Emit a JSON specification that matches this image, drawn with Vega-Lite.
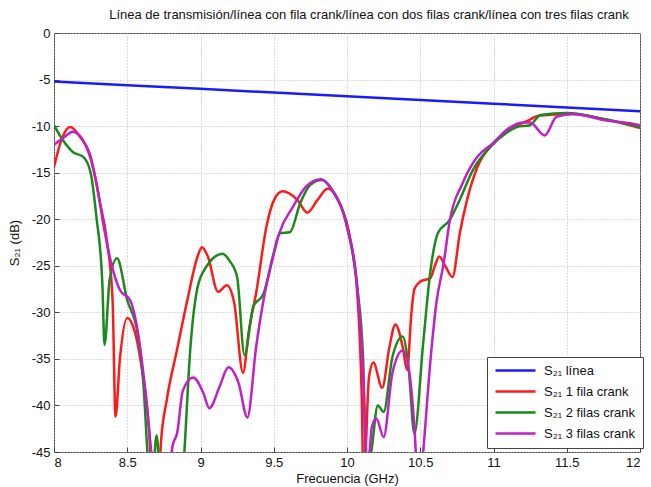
{
  "$schema": "https://vega.github.io/schema/vega-lite/v6.json",
  "width": 586,
  "height": 419,
  "autosize": {"type": "none"},
  "padding": {"left": 54, "top": 33, "right": 11, "bottom": 35},
  "background": "white",
  "title": {
    "text": "Línea de transmisión/línea con fila crank/línea con dos filas crank/línea con tres filas crank",
    "font": "Liberation Sans",
    "fontSize": 13,
    "fontWeight": "normal",
    "color": "#111",
    "offset": 5,
    "dx": 22
  },
  "config": {
    "view": {"stroke": "#444", "strokeWidth": 1},
    "axis": {
      "labelFont": "Liberation Sans",
      "labelFontSize": 13,
      "labelColor": "#111",
      "titleFont": "Liberation Sans",
      "titleFontSize": 13,
      "titleFontWeight": "normal",
      "titleColor": "#111",
      "grid": true,
      "gridColor": "#bbbbbb",
      "gridDash": [1, 2],
      "gridWidth": 1,
      "domain": false,
      "tickColor": "#444",
      "tickSize": -5
    }
  },
  "data": {
    "values": [
      {"f": 8.00, "s": -5.2, "serie": "S₂₁ línea"},
      {"f": 9.00, "s": -6.0, "serie": "S₂₁ línea"},
      {"f": 10.00, "s": -6.8, "serie": "S₂₁ línea"},
      {"f": 11.00, "s": -7.6, "serie": "S₂₁ línea"},
      {"f": 12.00, "s": -8.4, "serie": "S₂₁ línea"},

      {"f": 8.00, "s": -14.4, "serie": "S₂₁ 1 fila crank"},
      {"f": 8.05, "s": -11.5, "serie": "S₂₁ 1 fila crank"},
      {"f": 8.11, "s": -10.1, "serie": "S₂₁ 1 fila crank"},
      {"f": 8.18, "s": -11.2, "serie": "S₂₁ 1 fila crank"},
      {"f": 8.25, "s": -13.3, "serie": "S₂₁ 1 fila crank"},
      {"f": 8.31, "s": -17.9, "serie": "S₂₁ 1 fila crank"},
      {"f": 8.36, "s": -22.2, "serie": "S₂₁ 1 fila crank"},
      {"f": 8.40, "s": -28.7, "serie": "S₂₁ 1 fila crank"},
      {"f": 8.42, "s": -41.2, "serie": "S₂₁ 1 fila crank"},
      {"f": 8.45, "s": -35.0, "serie": "S₂₁ 1 fila crank"},
      {"f": 8.50, "s": -30.6, "serie": "S₂₁ 1 fila crank"},
      {"f": 8.55, "s": -32.0, "serie": "S₂₁ 1 fila crank"},
      {"f": 8.59, "s": -35.1, "serie": "S₂₁ 1 fila crank"},
      {"f": 8.65, "s": -43.0, "serie": "S₂₁ 1 fila crank"},
      {"f": 8.68, "s": -52.0, "serie": "S₂₁ 1 fila crank"},
      {"f": 8.71, "s": -50.0, "serie": "S₂₁ 1 fila crank"},
      {"f": 8.73, "s": -44.0, "serie": "S₂₁ 1 fila crank"},
      {"f": 8.77, "s": -39.4, "serie": "S₂₁ 1 fila crank"},
      {"f": 8.84, "s": -34.0, "serie": "S₂₁ 1 fila crank"},
      {"f": 8.91, "s": -28.7, "serie": "S₂₁ 1 fila crank"},
      {"f": 8.98, "s": -24.0, "serie": "S₂₁ 1 fila crank"},
      {"f": 9.01, "s": -23.0, "serie": "S₂₁ 1 fila crank"},
      {"f": 9.05, "s": -24.0, "serie": "S₂₁ 1 fila crank"},
      {"f": 9.12, "s": -27.8, "serie": "S₂₁ 1 fila crank"},
      {"f": 9.18, "s": -27.1, "serie": "S₂₁ 1 fila crank"},
      {"f": 9.23, "s": -29.0, "serie": "S₂₁ 1 fila crank"},
      {"f": 9.29, "s": -36.5, "serie": "S₂₁ 1 fila crank"},
      {"f": 9.33, "s": -32.0, "serie": "S₂₁ 1 fila crank"},
      {"f": 9.38, "s": -27.9, "serie": "S₂₁ 1 fila crank"},
      {"f": 9.45, "s": -20.8, "serie": "S₂₁ 1 fila crank"},
      {"f": 9.50, "s": -18.0, "serie": "S₂₁ 1 fila crank"},
      {"f": 9.56, "s": -17.0, "serie": "S₂₁ 1 fila crank"},
      {"f": 9.66, "s": -17.9, "serie": "S₂₁ 1 fila crank"},
      {"f": 9.73, "s": -19.3, "serie": "S₂₁ 1 fila crank"},
      {"f": 9.80, "s": -17.9, "serie": "S₂₁ 1 fila crank"},
      {"f": 9.87, "s": -16.7, "serie": "S₂₁ 1 fila crank"},
      {"f": 9.95, "s": -18.3, "serie": "S₂₁ 1 fila crank"},
      {"f": 10.02, "s": -21.9, "serie": "S₂₁ 1 fila crank"},
      {"f": 10.07, "s": -27.9, "serie": "S₂₁ 1 fila crank"},
      {"f": 10.10, "s": -38.7, "serie": "S₂₁ 1 fila crank"},
      {"f": 10.115, "s": -50.0, "serie": "S₂₁ 1 fila crank"},
      {"f": 10.13, "s": -44.0, "serie": "S₂₁ 1 fila crank"},
      {"f": 10.15, "s": -37.0, "serie": "S₂₁ 1 fila crank"},
      {"f": 10.18, "s": -35.4, "serie": "S₂₁ 1 fila crank"},
      {"f": 10.24, "s": -38.1, "serie": "S₂₁ 1 fila crank"},
      {"f": 10.29, "s": -33.7, "serie": "S₂₁ 1 fila crank"},
      {"f": 10.33, "s": -31.3, "serie": "S₂₁ 1 fila crank"},
      {"f": 10.38, "s": -33.7, "serie": "S₂₁ 1 fila crank"},
      {"f": 10.41, "s": -36.2, "serie": "S₂₁ 1 fila crank"},
      {"f": 10.44, "s": -30.0, "serie": "S₂₁ 1 fila crank"},
      {"f": 10.46, "s": -27.5, "serie": "S₂₁ 1 fila crank"},
      {"f": 10.50, "s": -26.7, "serie": "S₂₁ 1 fila crank"},
      {"f": 10.57, "s": -26.3, "serie": "S₂₁ 1 fila crank"},
      {"f": 10.60, "s": -25.0, "serie": "S₂₁ 1 fila crank"},
      {"f": 10.63, "s": -24.0, "serie": "S₂₁ 1 fila crank"},
      {"f": 10.67, "s": -25.0, "serie": "S₂₁ 1 fila crank"},
      {"f": 10.72, "s": -26.2, "serie": "S₂₁ 1 fila crank"},
      {"f": 10.77, "s": -21.5, "serie": "S₂₁ 1 fila crank"},
      {"f": 10.82, "s": -17.9, "serie": "S₂₁ 1 fila crank"},
      {"f": 10.89, "s": -14.4, "serie": "S₂₁ 1 fila crank"},
      {"f": 11.00, "s": -11.8, "serie": "S₂₁ 1 fila crank"},
      {"f": 11.13, "s": -10.2, "serie": "S₂₁ 1 fila crank"},
      {"f": 11.25, "s": -9.3, "serie": "S₂₁ 1 fila crank"},
      {"f": 11.30, "s": -8.9, "serie": "S₂₁ 1 fila crank"},
      {"f": 11.54, "s": -8.7, "serie": "S₂₁ 1 fila crank"},
      {"f": 11.77, "s": -9.3, "serie": "S₂₁ 1 fila crank"},
      {"f": 12.00, "s": -10.2, "serie": "S₂₁ 1 fila crank"},

      {"f": 8.00, "s": -9.9, "serie": "S₂₁ 2 filas crank"},
      {"f": 8.06, "s": -11.5, "serie": "S₂₁ 2 filas crank"},
      {"f": 8.13, "s": -12.8, "serie": "S₂₁ 2 filas crank"},
      {"f": 8.20, "s": -13.3, "serie": "S₂₁ 2 filas crank"},
      {"f": 8.25, "s": -15.0, "serie": "S₂₁ 2 filas crank"},
      {"f": 8.29, "s": -19.8, "serie": "S₂₁ 2 filas crank"},
      {"f": 8.33, "s": -26.9, "serie": "S₂₁ 2 filas crank"},
      {"f": 8.345, "s": -33.5, "serie": "S₂₁ 2 filas crank"},
      {"f": 8.38, "s": -26.5, "serie": "S₂₁ 2 filas crank"},
      {"f": 8.43, "s": -24.2, "serie": "S₂₁ 2 filas crank"},
      {"f": 8.50, "s": -28.7, "serie": "S₂₁ 2 filas crank"},
      {"f": 8.57, "s": -32.2, "serie": "S₂₁ 2 filas crank"},
      {"f": 8.61, "s": -37.6, "serie": "S₂₁ 2 filas crank"},
      {"f": 8.64, "s": -45.5, "serie": "S₂₁ 2 filas crank"},
      {"f": 8.665, "s": -50.0, "serie": "S₂₁ 2 filas crank"},
      {"f": 8.70, "s": -43.2, "serie": "S₂₁ 2 filas crank"},
      {"f": 8.73, "s": -50.0, "serie": "S₂₁ 2 filas crank"},
      {"f": 8.80, "s": -60.0, "serie": "S₂₁ 2 filas crank"},
      {"f": 8.87, "s": -50.0, "serie": "S₂₁ 2 filas crank"},
      {"f": 8.89, "s": -45.0, "serie": "S₂₁ 2 filas crank"},
      {"f": 8.93, "s": -34.0, "serie": "S₂₁ 2 filas crank"},
      {"f": 8.98, "s": -27.3, "serie": "S₂₁ 2 filas crank"},
      {"f": 9.04, "s": -25.1, "serie": "S₂₁ 2 filas crank"},
      {"f": 9.15, "s": -23.7, "serie": "S₂₁ 2 filas crank"},
      {"f": 9.20, "s": -24.5, "serie": "S₂₁ 2 filas crank"},
      {"f": 9.25, "s": -26.2, "serie": "S₂₁ 2 filas crank"},
      {"f": 9.30, "s": -34.6, "serie": "S₂₁ 2 filas crank"},
      {"f": 9.36, "s": -29.4, "serie": "S₂₁ 2 filas crank"},
      {"f": 9.43, "s": -28.0, "serie": "S₂₁ 2 filas crank"},
      {"f": 9.50, "s": -23.6, "serie": "S₂₁ 2 filas crank"},
      {"f": 9.54, "s": -21.5, "serie": "S₂₁ 2 filas crank"},
      {"f": 9.61, "s": -21.4, "serie": "S₂₁ 2 filas crank"},
      {"f": 9.68, "s": -18.3, "serie": "S₂₁ 2 filas crank"},
      {"f": 9.75, "s": -16.3, "serie": "S₂₁ 2 filas crank"},
      {"f": 9.83, "s": -15.8, "serie": "S₂₁ 2 filas crank"},
      {"f": 9.90, "s": -16.9, "serie": "S₂₁ 2 filas crank"},
      {"f": 10.00, "s": -20.8, "serie": "S₂₁ 2 filas crank"},
      {"f": 10.07, "s": -27.3, "serie": "S₂₁ 2 filas crank"},
      {"f": 10.11, "s": -35.1, "serie": "S₂₁ 2 filas crank"},
      {"f": 10.135, "s": -48.0, "serie": "S₂₁ 2 filas crank"},
      {"f": 10.17, "s": -44.5, "serie": "S₂₁ 2 filas crank"},
      {"f": 10.21, "s": -40.0, "serie": "S₂₁ 2 filas crank"},
      {"f": 10.25, "s": -40.7, "serie": "S₂₁ 2 filas crank"},
      {"f": 10.31, "s": -34.8, "serie": "S₂₁ 2 filas crank"},
      {"f": 10.38, "s": -32.6, "serie": "S₂₁ 2 filas crank"},
      {"f": 10.42, "s": -35.9, "serie": "S₂₁ 2 filas crank"},
      {"f": 10.46, "s": -43.0, "serie": "S₂₁ 2 filas crank"},
      {"f": 10.52, "s": -33.3, "serie": "S₂₁ 2 filas crank"},
      {"f": 10.57, "s": -25.5, "serie": "S₂₁ 2 filas crank"},
      {"f": 10.62, "s": -21.5, "serie": "S₂₁ 2 filas crank"},
      {"f": 10.70, "s": -20.1, "serie": "S₂₁ 2 filas crank"},
      {"f": 10.77, "s": -17.9, "serie": "S₂₁ 2 filas crank"},
      {"f": 10.86, "s": -14.7, "serie": "S₂₁ 2 filas crank"},
      {"f": 10.98, "s": -12.2, "serie": "S₂₁ 2 filas crank"},
      {"f": 11.09, "s": -10.7, "serie": "S₂₁ 2 filas crank"},
      {"f": 11.16, "s": -10.1, "serie": "S₂₁ 2 filas crank"},
      {"f": 11.25, "s": -9.9, "serie": "S₂₁ 2 filas crank"},
      {"f": 11.32, "s": -8.8, "serie": "S₂₁ 2 filas crank"},
      {"f": 11.50, "s": -8.6, "serie": "S₂₁ 2 filas crank"},
      {"f": 11.77, "s": -9.3, "serie": "S₂₁ 2 filas crank"},
      {"f": 12.00, "s": -10.1, "serie": "S₂₁ 2 filas crank"},

      {"f": 8.00, "s": -12.0, "serie": "S₂₁ 3 filas crank"},
      {"f": 8.06, "s": -11.3, "serie": "S₂₁ 3 filas crank"},
      {"f": 8.13, "s": -10.6, "serie": "S₂₁ 3 filas crank"},
      {"f": 8.22, "s": -12.2, "serie": "S₂₁ 3 filas crank"},
      {"f": 8.29, "s": -16.1, "serie": "S₂₁ 3 filas crank"},
      {"f": 8.34, "s": -20.8, "serie": "S₂₁ 3 filas crank"},
      {"f": 8.38, "s": -24.0, "serie": "S₂₁ 3 filas crank"},
      {"f": 8.45, "s": -27.6, "serie": "S₂₁ 3 filas crank"},
      {"f": 8.52, "s": -28.7, "serie": "S₂₁ 3 filas crank"},
      {"f": 8.57, "s": -31.9, "serie": "S₂₁ 3 filas crank"},
      {"f": 8.63, "s": -39.4, "serie": "S₂₁ 3 filas crank"},
      {"f": 8.67, "s": -46.0, "serie": "S₂₁ 3 filas crank"},
      {"f": 8.72, "s": -55.0, "serie": "S₂₁ 3 filas crank"},
      {"f": 8.78, "s": -48.0, "serie": "S₂₁ 3 filas crank"},
      {"f": 8.81, "s": -44.3, "serie": "S₂₁ 3 filas crank"},
      {"f": 8.84, "s": -43.0, "serie": "S₂₁ 3 filas crank"},
      {"f": 8.88, "s": -38.4, "serie": "S₂₁ 3 filas crank"},
      {"f": 8.95, "s": -37.0, "serie": "S₂₁ 3 filas crank"},
      {"f": 9.02, "s": -38.7, "serie": "S₂₁ 3 filas crank"},
      {"f": 9.06, "s": -40.3, "serie": "S₂₁ 3 filas crank"},
      {"f": 9.13, "s": -38.0, "serie": "S₂₁ 3 filas crank"},
      {"f": 9.19, "s": -35.9, "serie": "S₂₁ 3 filas crank"},
      {"f": 9.26, "s": -37.6, "serie": "S₂₁ 3 filas crank"},
      {"f": 9.32, "s": -41.3, "serie": "S₂₁ 3 filas crank"},
      {"f": 9.38, "s": -33.7, "serie": "S₂₁ 3 filas crank"},
      {"f": 9.43, "s": -28.7, "serie": "S₂₁ 3 filas crank"},
      {"f": 9.49, "s": -24.4, "serie": "S₂₁ 3 filas crank"},
      {"f": 9.54, "s": -21.4, "serie": "S₂₁ 3 filas crank"},
      {"f": 9.63, "s": -18.7, "serie": "S₂₁ 3 filas crank"},
      {"f": 9.72, "s": -16.5, "serie": "S₂₁ 3 filas crank"},
      {"f": 9.82, "s": -15.7, "serie": "S₂₁ 3 filas crank"},
      {"f": 9.90, "s": -16.9, "serie": "S₂₁ 3 filas crank"},
      {"f": 10.00, "s": -20.8, "serie": "S₂₁ 3 filas crank"},
      {"f": 10.07, "s": -27.3, "serie": "S₂₁ 3 filas crank"},
      {"f": 10.11, "s": -36.5, "serie": "S₂₁ 3 filas crank"},
      {"f": 10.13, "s": -44.8, "serie": "S₂₁ 3 filas crank"},
      {"f": 10.145, "s": -46.0, "serie": "S₂₁ 3 filas crank"},
      {"f": 10.17, "s": -42.3, "serie": "S₂₁ 3 filas crank"},
      {"f": 10.20, "s": -41.4, "serie": "S₂₁ 3 filas crank"},
      {"f": 10.25, "s": -43.4, "serie": "S₂₁ 3 filas crank"},
      {"f": 10.31, "s": -36.5, "serie": "S₂₁ 3 filas crank"},
      {"f": 10.38, "s": -34.1, "serie": "S₂₁ 3 filas crank"},
      {"f": 10.43, "s": -37.0, "serie": "S₂₁ 3 filas crank"},
      {"f": 10.46, "s": -42.3, "serie": "S₂₁ 3 filas crank"},
      {"f": 10.49, "s": -50.0, "serie": "S₂₁ 3 filas crank"},
      {"f": 10.52, "s": -45.0, "serie": "S₂₁ 3 filas crank"},
      {"f": 10.57, "s": -35.1, "serie": "S₂₁ 3 filas crank"},
      {"f": 10.61, "s": -29.0, "serie": "S₂₁ 3 filas crank"},
      {"f": 10.66, "s": -24.7, "serie": "S₂₁ 3 filas crank"},
      {"f": 10.70, "s": -20.3, "serie": "S₂₁ 3 filas crank"},
      {"f": 10.79, "s": -16.1, "serie": "S₂₁ 3 filas crank"},
      {"f": 10.89, "s": -13.3, "serie": "S₂₁ 3 filas crank"},
      {"f": 11.00, "s": -11.8, "serie": "S₂₁ 3 filas crank"},
      {"f": 11.09, "s": -10.4, "serie": "S₂₁ 3 filas crank"},
      {"f": 11.20, "s": -9.6, "serie": "S₂₁ 3 filas crank"},
      {"f": 11.25, "s": -9.6, "serie": "S₂₁ 3 filas crank"},
      {"f": 11.35, "s": -11.0, "serie": "S₂₁ 3 filas crank"},
      {"f": 11.43, "s": -9.0, "serie": "S₂₁ 3 filas crank"},
      {"f": 11.54, "s": -8.7, "serie": "S₂₁ 3 filas crank"},
      {"f": 11.77, "s": -9.4, "serie": "S₂₁ 3 filas crank"},
      {"f": 11.93, "s": -9.7, "serie": "S₂₁ 3 filas crank"},
      {"f": 12.00, "s": -9.9, "serie": "S₂₁ 3 filas crank"}
    ]
  },
  "mark": {"type": "line", "interpolate": "monotone", "strokeWidth": 2.5, "clip": true},
  "encoding": {
    "x": {
      "field": "f",
      "type": "quantitative",
      "title": "Frecuencia (GHz)",
      "scale": {"domain": [8, 12], "nice": false, "zero": false},
      "axis": {"values": [8, 8.5, 9, 9.5, 10, 10.5, 11, 11.5, 12], "labelExpr": "toString(datum.value)", "labelPadding": 9, "titlePadding": 3}
    },
    "y": {
      "field": "s",
      "type": "quantitative",
      "title": "S₂₁ (dB)",
      "scale": {"domain": [-45, 0], "nice": false, "zero": false},
      "axis": {"values": [0, -5, -10, -15, -20, -25, -30, -35, -40, -45], "labelExpr": "toString(datum.value)", "labelPadding": 9, "titlePadding": 10}
    },
    "color": {
      "field": "serie",
      "type": "nominal",
      "sort": ["S₂₁ línea", "S₂₁ 1 fila crank", "S₂₁ 2 filas crank", "S₂₁ 3 filas crank"],
      "scale": {
        "domain": ["S₂₁ línea", "S₂₁ 1 fila crank", "S₂₁ 2 filas crank", "S₂₁ 3 filas crank"],
        "range": ["#1a1aff", "#ff1a1a", "#1a8a1a", "#c020c8"]
      },
      "legend": {
        "title": null,
        "orient": "none",
        "legendX": 433,
        "legendY": 324,
        "strokeColor": "#444",
        "fillColor": "white",
        "padding": 7,
        "symbolType": "M-4,0H4",
        "symbolSize": 100,
        "symbolOffset": 15,
        "symbolStrokeWidth": 2.5,
        "labelFont": "Liberation Sans",
        "labelFontSize": 13,
        "labelColor": "#111",
        "rowPadding": 7,
        "labelOffset": 22
      }
    }
  }
}
